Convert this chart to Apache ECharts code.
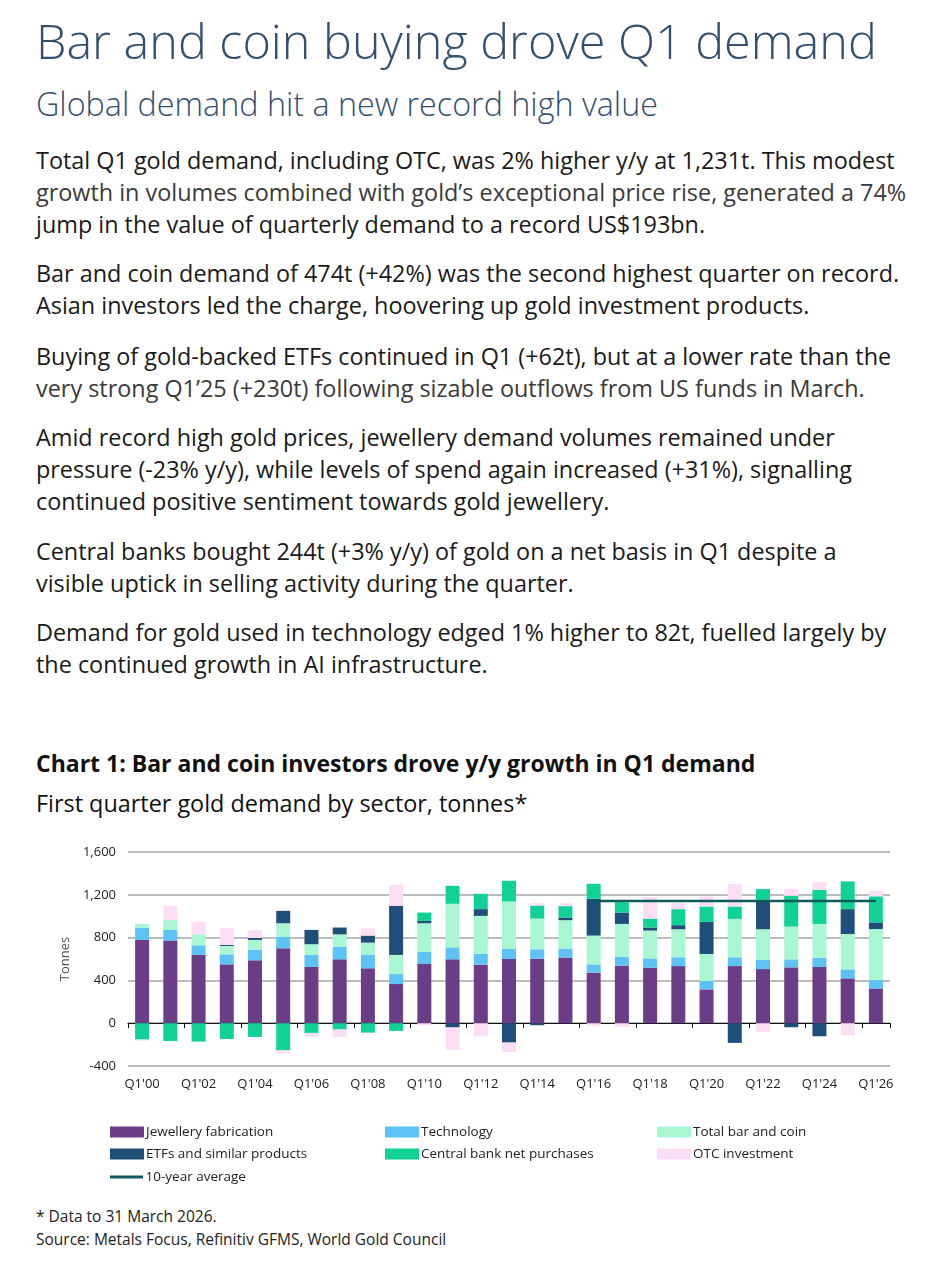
<!DOCTYPE html>
<html>
<head>
<meta charset="utf-8">
<script src="https://cdn.jsdelivr.net/npm/echarts@6/dist/echarts.min.js"></script>
<style>
    body { margin: 0; width: 942px; height: 1264px; background: #fff; font-family: 'Open Sans', 'Noto Sans', sans-serif; color: #1a1a1a; position: relative; overflow: hidden; }
    .abs { position: absolute; left: 36px; white-space: nowrap; }
    /* 标题 */
    .title { top: 9px; font-size: 48.5px; font-weight: 300; color: #34506F; line-height: 62px; }
    .subtitle { top: 83px; font-size: 32.3px; font-weight: 300; color: #34506F; line-height: 40px; }
    .para { font-size: 23.4px; line-height: 32px; }
    .soft { color: #3a3a3a; }
    .chart-title { top: 748px; font-size: 23px; font-weight: 700; line-height: 30px; color: #111; }
    .chart-sub { top: 788px; font-size: 23.4px; line-height: 30px; color: #111; }
    .note { top: 1205px; font-size: 15.5px; line-height: 23px; color: #222; }
    #chart { position: absolute; left: 0; top: 830px; width: 942px; height: 372px; }
</style>
</head>
<body>
<div class="abs title">Bar and coin buying drove Q1 demand</div>
<div class="abs subtitle">Global demand hit a new record high value</div>
<div class="abs para" style="top:144px">Total Q1 gold demand, including OTC, was 2% higher y/y at 1,231t. This modest<br><span class="soft">growth in volumes combined with gold’s exceptional price rise, generated a 74%</span><br>jump in the value of quarterly demand to a record US$193bn.</div>
<div class="abs para" style="top:257px">Bar and coin demand of 474t (+42%) was the second highest quarter on record.<br>Asian investors led the charge, hoovering up gold investment products.</div>
<div class="abs para" style="top:340px">Buying of gold-backed ETFs continued in Q1 (+62t), but at a lower rate than the<br><span class="soft">very strong Q1’25 (+230t) following sizable outflows from US funds in March.</span></div>
<div class="abs para" style="top:421px">Amid record high gold prices, jewellery demand volumes remained under<br>pressure (-23% y/y), while levels of spend again increased (+31%), signalling<br>continued positive sentiment towards gold jewellery.</div>
<div class="abs para" style="top:535px">Central banks bought 244t (+3% y/y) of gold on a net basis in Q1 despite a<br>visible uptick in selling activity during the quarter.</div>
<div class="abs para" style="top:616px">Demand for gold used in technology edged 1% higher to 82t, fuelled largely by<br>the continued growth in AI infrastructure.</div>
<div class="abs chart-title">Chart 1: Bar and coin investors drove y/y growth in Q1 demand</div>
<div class="abs chart-sub">First quarter gold demand by sector, tonnes*</div>
<div id="chart"></div>
<div class="abs note">* Data to 31 March 2026.<br>Source: Metals Focus, Refinitiv GFMS, World Gold Council</div>

<script>
    // 数据
    var categories = ["Q1'00", "Q1'01", "Q1'02", "Q1'03", "Q1'04", "Q1'05", "Q1'06", "Q1'07", "Q1'08", "Q1'09",
        "Q1'10", "Q1'11", "Q1'12", "Q1'13", "Q1'14", "Q1'15", "Q1'16", "Q1'17", "Q1'18", "Q1'19",
        "Q1'20", "Q1'21", "Q1'22", "Q1'23", "Q1'24", "Q1'25", "Q1'26"];
    var jewellery = [778, 772, 638, 550, 588, 700, 525, 597, 513, 366, 553, 597, 547, 600, 603, 613, 472, 538, 519, 534, 316, 534, 506, 522, 525, 419, 324];
    var technology = [115, 100, 90, 94, 100, 106, 113, 119, 125, 93, 113, 112, 103, 94, 88, 84, 78, 84, 87, 82, 78, 82, 85, 75, 88, 84, 82];
    var barCoin = [34, 94, 103, 78, 90, 128, 100, 115, 115, 179, 268, 407, 353, 444, 287, 266, 269, 306, 260, 262, 253, 359, 287, 306, 315, 331, 474];
    var etfs = [0, 0, 0, 9, 19, 116, 134, 63, 66, 459, 22, -40, 63, -181, -19, 25, 344, 106, 28, 38, 300, -184, 275, -38, -122, 232, 62];
    var centralBank = [-153, -166, -172, -147, -128, -253, -91, -59, -88, -72, 78, 168, 143, 193, 122, 106, 140, 97, 84, 150, 144, 116, 100, 288, 319, 259, 244];
    var otc = [-10, 131, 119, 157, 75, -30, -37, -69, 69, 197, -20, -207, -122, -88, 22, 28, -25, -34, 200, 56, 93, 209, -81, 65, 72, -113, 54];
    var tenYearAvg = [null, null, null, null, null, null, null, null, null, null, null, null, null, null, null, null,
        1143, 1143, 1143, 1143, 1143, 1143, 1143, 1143, 1143, 1143, 1143];
    var yTicks = [-400, 0, 400, 800, 1200, 1600];

    var colors = {
        'Jewellery fabrication': '#6B3D86',
        'Technology': '#5CC3F4',
        'Total bar and coin': '#A9F6D3',
        'ETFs and similar products': '#1F4E79',
        'Central bank net purchases': '#12D196',
        'OTC investment': '#FCDDF6',
        '10-year average': '#0E5C58'
    };

    function barSeries(name, data) {
        return {
            name: name,
            type: 'bar',
            stack: 'demand',
            barWidth: 14,
            data: data,
            itemStyle: { color: colors[name] }
        };
    }

    // 图例位置
    var legendPos = [
        ['Jewellery fabrication', 105, 290],
        ['Technology', 380, 290],
        ['Total bar and coin', 652, 290],
        ['ETFs and similar products', 105, 312],
        ['Central bank net purchases', 380, 312],
        ['OTC investment', 652, 312],
        ['10-year average', 105, 335]
    ];

    var myChart = echarts.init(document.getElementById('chart'));
    var option = {
        animation: false,
        textStyle: { fontFamily: 'Open Sans' },
        grid: { left: 128, right: 52, top: 22, height: 214 },
        legend: legendPos.map(function (p) {
            var isLine = p[0] === '10-year average';
            return {
                data: [{ name: p[0], icon: isLine ? 'path://M0,0H33V3H0Z' : 'rect' }],
                left: p[1],
                top: p[2],
                itemWidth: 34,
                itemHeight: isLine ? 3 : 11,
                selectedMode: false,
                textStyle: { fontSize: 13.5, color: '#222', padding: [0, 0, 0, -3] }
            };
        }),
        xAxis: [{
            type: 'category',
            data: categories,
            axisLine: { onZero: true, lineStyle: { color: '#111', width: 1.2 } },
            axisTick: { show: true, length: 5, lineStyle: { color: '#111' } },
            axisLabel: { show: false }
        }, {
            type: 'category',
            data: categories,
            position: 'bottom',
            axisLine: { show: false, onZero: false },
            axisTick: { show: false },
            axisLabel: { interval: 1, margin: 12, fontSize: 13, color: '#222' }
        }],
        yAxis: {
            type: 'value',
            min: yTicks[0],
            max: yTicks[yTicks.length - 1],
            interval: 400,
            name: 'Tonnes',
            nameLocation: 'middle',
            nameGap: 53,
            nameTextStyle: { fontSize: 13, color: '#555' },
            axisLine: { show: false },
            axisTick: { show: false },
            axisLabel: {
                fontSize: 13,
                color: '#222',
                margin: 12,
                formatter: function (v) { return v.toLocaleString('en-US'); }
            },
            splitLine: { lineStyle: { color: '#A6A6A6', width: 1.5 } }
        },
        series: [
            barSeries('Jewellery fabrication', jewellery),
            barSeries('Technology', technology),
            barSeries('Total bar and coin', barCoin),
            barSeries('ETFs and similar products', etfs),
            barSeries('Central bank net purchases', centralBank),
            barSeries('OTC investment', otc),
            {
                name: '10-year average',
                type: 'line',
                data: tenYearAvg,
                symbol: 'none',
                lineStyle: { color: colors['10-year average'], width: 2.5 },
                itemStyle: { color: colors['10-year average'] },
                z: 5
            }
        ]
    };
    myChart.setOption(option);
</script>
</body>
</html>
